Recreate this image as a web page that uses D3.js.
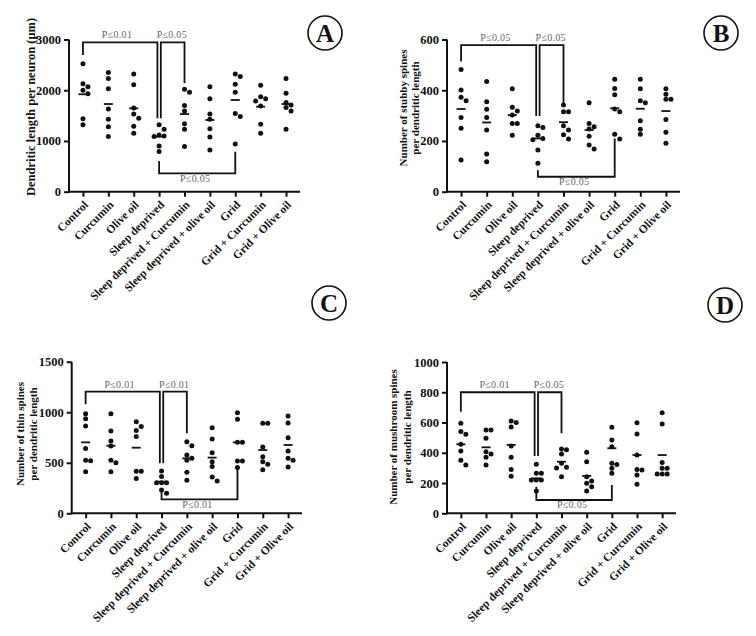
<!DOCTYPE html>
<html><head><meta charset="utf-8">
<script src="https://cdn.jsdelivr.net/npm/d3@7"></script>
<style>
html,body{margin:0;padding:0;background:#fff;}
svg{display:block;font-family:"Liberation Serif","Times New Roman",serif;}
</style></head>
<body><svg id="chart" width="756" height="636"></svg>
<script>
// ---------- data ----------
const categories = ["Control","Curcumin","Olive oil","Sleep deprived","Sleep deprived + Curcumin","Sleep deprived + olive oil","Grid","Grid + Curcumin","Grid + Olive oil"];

// Panel A: dendritic length per neuron (µm)
const dendriticLength = [
  [2520,2130,2070,2000,1930,1440,1320],
  [2350,2230,2030,1630,1430,1280,1090],
  [2320,2110,1650,1530,1450,1290,1150],
  [1320,1230,1120,1100,1090,900,790],
  [2020,1960,1700,1590,1340,1230,890],
  [2070,1830,1530,1430,1240,1080,820],
  [2320,2270,2120,1960,1540,1480,940],
  [2100,1870,1830,1790,1690,1330,1150],
  [2230,1940,1760,1710,1660,1590,1230]
];
const dendriticMeans = [1920,1728,1643,1085,1531,1413,1807,1676,1728];
const dendriticTicks = [0,1000,2000,3000];

// Panel B: stubby spines
const stubbySpines = [
  [482,401,372,359,293,250,125],
  [434,355,325,293,243,149,118],
  [406,333,318,302,269,269,223],
  [260,253,223,210,205,164,112],
  [342,315,315,260,243,225,208],
  [351,269,256,247,219,184,168],
  [443,407,382,326,315,226,208],
  [443,406,359,351,280,246,226],
  [406,384,364,364,285,234,191]
];
const stubbyMeans = [326,273,302,210,274,243,329,327,318];
const stubbyTicks = [0,200,400,600];

// Panel C: thin spines
const thinSpines = [
  [985,935,865,640,525,520,412],
  [985,815,715,665,525,500,410],
  [905,860,820,760,415,415,345],
  [419,363,303,303,303,231,198],
  [709,669,577,544,524,405,326],
  [847,735,600,511,462,359,320],
  [995,930,702,702,518,518,452],
  [890,890,655,560,510,485,430],
  [963,893,748,616,544,524,458]
];
const thinMeans = [702,669,649,313,544,551,702,626,676];
const thinTicks = [0,500,1000,1500];

// Panel D: mushroom spines
const mushroomSpines = [
  [595,540,522,456,412,350,319],
  [550,550,496,407,392,370,319],
  [610,600,570,445,370,290,245],
  [324,264,264,220,220,220,148],
  [425,420,392,330,305,300,242],
  [403,341,242,214,198,176,148],
  [568,485,440,330,323,297,264],
  [599,524,385,289,286,253,192],
  [665,590,335,297,297,260,260,260]
];
const mushroomMeans = [456,436,452,231,341,247,430,385,385];
const mushroomTicks = [0,200,400,600,800,1000];

// significance labels: [Control vs SD, SD vs SD+Curcumin, SD vs Grid]
const pLabelsA = ["P≤0.01","P≤0.05","P≤0.05"];
const pLabelsB = ["P≤0.05","P≤0.05","P≤0.05"];
const pLabelsC = ["P≤0.01","P≤0.01","P≤0.01"];
const pLabelsD = ["P≤0.01","P≤0.05","P≤0.05"];

const yLabelA = ["Dendritic length per neuron (μm)"];
const yLabelB = ["Number of  stubby spines","per dendritic length"];
const yLabelC = ["Number of thin spines","per dendritic length"];
const yLabelD = ["Number of  mushroom spines","per dendritic length"];

// ---------- drawing ----------
const svg = d3.select("#chart");
const FONT = "'Liberation Serif','Times New Roman',serif";

function panel(cfg){
  const g = svg.append("g");
  const x = d3.scalePoint().domain(categories).range([cfg.ax, cfg.xEnd]).padding(0.55);
  const y = d3.scaleLinear().domain([0, cfg.ymax]).range([cfg.y0, cfg.yTop]);

  // axes
  const yAxis = g.append("g").attr("transform",`translate(${cfg.ax},0)`)
    .call(d3.axisLeft(y).tickValues(cfg.ticks).tickFormat(d3.format("d")).tickSize(5).tickPadding(3).tickSizeOuter(0));
  const xAxis = g.append("g").attr("transform",`translate(0,${cfg.y0})`)
    .call(d3.axisBottom(x).tickSize(5).tickSizeOuter(0).tickFormat(""));
  [yAxis,xAxis].forEach(a=>{
    a.select(".domain").attr("stroke","#111").attr("stroke-width",2);
    a.selectAll(".tick line").attr("stroke","#111").attr("stroke-width",2);
  });
  xAxis.select(".domain").attr("d",`M${cfg.ax},0H${cfg.xEnd}`);
  yAxis.select(".domain").attr("d",`M0,${cfg.y0+1}V${cfg.yTop}`);
  yAxis.selectAll(".tick text").attr("font-family",FONT).attr("font-weight","bold")
    .attr("font-size",12.5).attr("fill","#111");

  // category labels
  g.selectAll(".cat").data(categories).join("text")
    .attr("transform",d=>`translate(${x(d)+3},${cfg.y0+11}) rotate(-45)`)
    .attr("text-anchor","end").attr("dy","0.35em")
    .attr("font-family",FONT).attr("font-weight","bold").attr("font-size",11.5)
    .attr("fill","#111").text(d=>d);

  // y label
  const lab = g.append("text").attr("transform",`translate(${cfg.labX},${cfg.labY}) rotate(-90)`)
    .attr("text-anchor","middle").attr("font-family",FONT).attr("font-weight","bold")
    .attr("font-size",cfg.labSize).attr("fill","#111");
  cfg.yLabel.forEach((t,i)=>lab.append("tspan").attr("x",0).attr("y",i*cfg.labGap).text(t));

  // dots (spreading of close values, GraphPad style)
  const r = 2.5, minD = 4.9, step = 5;
  cfg.values.forEach((vals,i)=>{
    const cx = x(categories[i]);
    const placed = [];
    const pts = vals.map(v=>({v, py:y(v)})).sort((a,b)=>a.py-b.py);
    pts.forEach(p=>{
      const cands=[0];
      for(let k=1;k<6;k++){cands.push(k*step); cands.push(-k*step);}
      let best=0;
      for(const c of cands){
        if(placed.every(q=>Math.hypot(q.x-c,q.y-p.py)>=minD)){best=c;break;}
      }
      placed.push({x:best,y:p.py});
      p.px = cx+best;
    });
    g.selectAll(null).data(pts).join("circle")
      .attr("cx",d=>d.px).attr("cy",d=>d.py).attr("r",r).attr("fill","#111");
    // mean line
    g.append("line").attr("x1",cx-4.5).attr("x2",cx+4.5)
      .attr("y1",y(cfg.means[i])).attr("y2",y(cfg.means[i]))
      .attr("stroke","#111").attr("stroke-width",1.8);
  });

  // brackets
  const b = cfg.br;
  const xc = x(categories[0]), xs = x(categories[3]), xsc = x(categories[4]), xg = x(categories[6]);
  const line = pts => g.append("path").attr("d",d3.line()(pts)).attr("fill","none")
    .attr("stroke","#111").attr("stroke-width",1.8);
  const yt = y(b.top);
  line([[xc,y(b.ctrlLeg)],[xc,yt],[xs-1.7,yt],[xs-1.7,y(b.sdLeg)]]);
  line([[xs+1.7,y(b.sdLeg)],[xs+1.7,yt],[xsc,yt],[xsc,y(b.sdcLeg)]]);
  const yb = y(b.bottom);
  line([[xs,y(b.bLeft)],[xs,yb],[xg,yb],[xg,y(b.bRight)]]);
  const ptxt = (tx,ty,t)=>g.append("text").attr("x",tx).attr("y",ty).attr("text-anchor","middle")
    .attr("font-family",FONT).attr("font-size",10).attr("fill","#666").attr("letter-spacing",0.3).text(t);
  ptxt((xc+xs)/2 - 4, yt-4, cfg.p[0]);
  ptxt((xs+xsc)/2, yt-4, cfg.p[1]);
  ptxt((xs+xg)/2 - 2, yb+8.5, cfg.p[2]);

  // panel badge
  g.append("circle").attr("cx",cfg.badge[0]).attr("cy",cfg.badge[1]).attr("r",17)
    .attr("fill","#fff").attr("stroke","#111").attr("stroke-width",1.6);
  g.append("text").attr("x",cfg.badge[0]).attr("y",cfg.badge[1]).attr("dy","0.35em")
    .attr("text-anchor","middle").attr("font-family",FONT).attr("font-weight","bold")
    .attr("font-size",25).attr("fill","#111").text(cfg.key);
}

panel({key:"A", values:dendriticLength, means:dendriticMeans, ticks:dendriticTicks, ymax:3000,
  ax:69, y0:191.7, yTop:39.5, xEnd:300, yLabel:yLabelA, labX:35, labY:107, labGap:13, labSize:12.5,
  badge:[325,33], p:pLabelsA,
  br:{top:2944, ctrlLeg:2694, sdLeg:1450, sdcLeg:2136, bottom:361, bLeft:605, bRight:789}});
panel({key:"B", values:stubbySpines, means:stubbyMeans, ticks:stubbyTicks, ymax:600,
  ax:447, y0:191.7, yTop:39.5, xEnd:680, yLabel:yLabelB, labX:407, labY:108, labGap:12, labSize:11,
  badge:[721,33], p:pLabelsB,
  br:{top:578, ctrlLeg:513, sdLeg:298, sdcLeg:342, bottom:59, bLeft:85, bRight:210}});
panel({key:"C", values:thinSpines, means:thinMeans, ticks:thinTicks, ymax:1500,
  ax:71.7, y0:513.3, yTop:361.7, xEnd:302, yLabel:yLabelC, labX:24, labY:434, labGap:13, labSize:11,
  badge:[329,303], p:pLabelsC,
  br:{top:1203, ctrlLeg:1078, sdLeg:494, sdcLeg:791, bottom:138, bLeft:231, bRight:452}});
panel({key:"D", values:mushroomSpines, means:mushroomMeans, ticks:mushroomTicks, ymax:1000,
  ax:447, y0:513.3, yTop:362, xEnd:676, yLabel:yLabelD, labX:397, labY:437, labGap:14, labSize:11,
  badge:[725,305], p:pLabelsD,
  br:{top:800, ctrlLeg:672, sdLeg:379, sdcLeg:529, bottom:88, bLeft:176, bRight:187}});
</script></body></html>
